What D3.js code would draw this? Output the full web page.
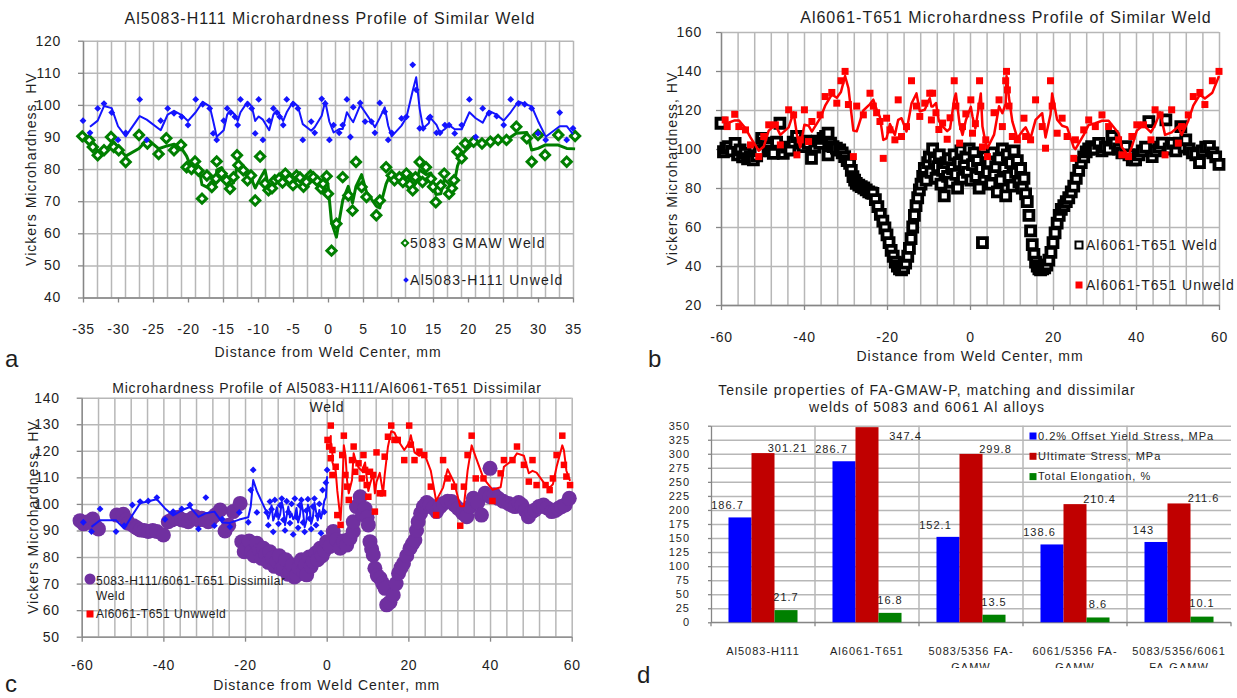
<!DOCTYPE html>
<html lang="en">
<head>
<meta charset="UTF-8">
<title>Microhardness and tensile properties of Al welds</title>
<script src="https://cdn.jsdelivr.net/npm/d3@7"></script>
<style>
  body { margin: 0; background: #fff; }
  svg { display: block; font-family: "Liberation Sans", Arial, Helvetica, sans-serif; }
  text { fill: #1e1e1e; }
</style>
</head>
<body>
<svg id="fig" width="1237" height="698"></svg>
<script>
// ---------------- data ----------------

// panel a : Al5083-H111 similar weld, [distance mm, HV]
const aXTicks = [-35, -30, -25, -20, -15, -10, -5, 0, 5, 10, 15, 20, 25, 30, 35];
const aYTicks = [40, 50, 60, 70, 80, 90, 100, 110, 120];
const aWeld = [[-35.1,90.2],[-34.1,89],[-33.6,86.9],[-32.9,84.3],[-32,85.9],[-31,90],[-30.6,86.9],[-29.9,85.9],
  [-28.9,82.2],[-27,90.6],[-25.8,88],[-24.2,84.7],[-23.1,89.6],[-22,85.9],[-21,87.5],[-20.2,80.6],[-19.5,80],
  [-19,82.4],[-18.5,79.5],[-18,70.8],[-17.3,78],[-16.6,74.4],[-16,77],[-15.9,82.4],[-15.2,78.6],[-14.5,76.5],
  [-14,73.9],[-13.5,77.5],[-13,84.3],[-12.8,81.2],[-12.1,79.6],[-11.5,76.5],[-11,78],[-10.4,70.2],[-9.7,83.9],
  [-9,75.5],[-8.5,73.4],[-8,74],[-7.6,76.5],[-7,77],[-6.5,75.8],[-6.1,78.6],[-5.5,76.8],[-5,75],[-4.5,78],
  [-4,77.4],[-3.5,74.5],[-3.1,76],[-2.5,78],[-2.1,77.5],[-1.5,76.2],[-1,74],[-0.7,75.4],[-0.2,77.8],[0,72.3],
  [0.5,54.6],[1.2,63],[2.1,77.5],[2.9,71.8],[3.5,67.1],[4,82.2],[4.8,74.4],[5.5,71.3],[6.9,65.6],[7.4,70.2],
  [8.3,80.6],[9.1,78],[9.5,76.5],[10.2,77.5],[10.7,76],[11.2,78.6],[11.7,75.2],[12.1,73.4],[12.5,77.5],[13.1,82.2],
  [13.5,76],[14,80.6],[14.7,77],[15,74.5],[15.4,69.7],[16.1,74.9],[16.6,78.6],[17.3,72.3],[17.7,74],[18,76.5],
  [18.5,85.4],[19.1,83.4],[19.6,88],[20.8,88.5],[22,88],[23.2,88.5],[24.3,89.1],[25.5,89.1],[26.9,93.2],
  [28.4,89.6],[29.1,82.3],[30,90.6],[31,84.4],[32.9,90.6],[34.1,82.3],[35.3,90.3]];
const aUnweld = [[-35,95.1],[-34,91.3],[-32.9,98.9],[-32,100.4],[-30.9,97.6],[-30,89.1],[-28.9,91.3],[-26.9,101.7],
  [-25.9,89.1],[-23.9,95.1],[-22.9,98.9],[-22,97.4],[-20.9,96.3],[-20,93.7],[-18.9,101.7],[-17.9,100.2],[-16.9,98.9],
  [-16.4,91.1],[-15.9,89.1],[-14.9,95.1],[-14.4,98.9],[-13.9,97.6],[-13.3,96.3],[-12.9,93.7],[-12.5,101.7],
  [-11.5,100.2],[-10.9,98.9],[-10.4,91.1],[-9.9,101.7],[-9.3,89.1],[-8.4,95.1],[-7.8,98.9],[-7.3,97.6],[-6.9,96.3],
  [-6.4,93.7],[-5.9,101.7],[-5,100.2],[-4.3,98.9],[-3.6,89.1],[-2.4,94.8],[-1.9,91.3],[-0.9,101.9],[-0.4,100.4],
  [0.2,89.1],[0.8,93.7],[1.6,91.3],[2.1,93.7],[2.7,101.7],[3.2,90],[3.6,99.3],[4.6,100.6],[5.3,94.8],[6.2,94.8],
  [6.7,91.3],[7.4,100.6],[8.1,97.9],[8.6,89.1],[9.1,91.3],[10.5,95.8],[11.2,96.3],[12.1,112.5],[12.6,104.7],
  [13.1,92.7],[13.6,92.7],[14.4,95.8],[14.6,96.3],[15.5,91.3],[16,91.3],[16.7,93.7],[17.3,93.7],[18.1,91.1],
  [19.1,93.7],[20.2,101.7],[21.1,90],[22.1,98.9],[23,97.4],[24.1,96.5],[25.1,93.7],[26.1,101.7],[27.2,100.4],
  [28.1,100.2],[29.1,98.9],[30,91.1],[31.1,89.1],[33.1,97.6],[34.1,89.1],[35,92.7]];

// panel b : Al6061-T651 similar weld
const bXTicks = [-60, -40, -20, 0, 20, 40, 60];
const bYTicks = [20, 40, 60, 80, 100, 120, 140, 160];
const bWeld = [[-60,113.2],[-59.4,98.6],[-58.8,100.5],[-58.2,101.2],[-57.4,99],[-56.6,102.9],[-56,97],[-55.4,99.5],
  [-54.8,96],[-54.2,97.8],[-53.6,95],[-53,96.1],[-52.2,94.4],[-51.4,96.5],[-50.8,99],[-50.2,105.5],[-49.4,103],
  [-48.6,101.2],[-48,99],[-47.4,97.8],[-46.6,103.5],[-45.8,113.2],[-45,97.8],[-44.2,101],[-43.4,99.5],[-42.6,103.5],
  [-41.8,106.4],[-41,103],[-40.2,101.2],[-39.6,104],[-39,102.9],[-38.2,95.2],[-37.4,101],[-36.8,104],[-36.2,102.9],
  [-35.4,105.5],[-34.8,106.5],[-34.2,108.1],[-34.2,97],[-33.6,103],[-33,101.2],[-32.2,100.5],[-31.4,99.5],[-30.8,98],
  [-30.2,96.1],[-29.6,94],[-29,92.6],[-28.6,89],[-28.2,85.8],[-27.8,84],[-27.4,82.4],[-26.8,81.5],[-26.2,80.7],
  [-25.6,80],[-25,79],[-24.4,78],[-23.8,77.5],[-23.4,77.2],[-22.8,74],[-22.2,70.5],[-21.6,66.5],[-21,63],
  [-20.5,59.5],[-20,56],[-19.5,52],[-19,48],[-18.5,45],[-18,42],[-17.5,40],[-17,38.5],[-16.5,38],[-16,39],
  [-15.5,41.5],[-15,45],[-14.6,49],[-14.2,54],[-13.8,60],[-13.4,66],[-13,71],[-12.6,75],[-12.2,79],[-11.8,82],
  [-11.4,86],[-11,90],[-10.6,84],[-10.2,93],[-9.8,96],[-9.4,88],[-9,100],[-8.6,94],[-8.2,85],[-7.8,91],[-7.4,97],
  [-7,82],[-6.6,89],[-6.2,76],[-5.8,93],[-5.4,86],[-5,95],[-4.6,83],[-4.2,90],[-3.8,97],[-3.4,87],[-3,80],
  [-2.6,93],[-2.2,99],[-1.8,85],[-1.4,91],[-1,96],[-0.6,88],[-0.2,100],[0.2,84],[0.6,92],[1,98],[1.4,86],
  [1.8,94],[2.2,80],[2.6,90],[3,52],[3.4,85],[3.8,96],[4.2,88],[4.6,93],[5,82],[5.4,98],[5.8,87],[6.2,91],
  [6.6,78],[7,95],[7.4,84],[7.8,100],[8.2,90],[8.6,76],[9,97],[9.4,86],[9.8,93],[10.2,81],[10.6,99],[11,88],
  [11.4,94],[11.8,83],[12.2,90],[12.6,80],[13,85],[13.4,77],[13.8,73],[14.2,66],[14.6,58],[15,51],[15.4,46],
  [15.8,42],[16.2,40],[16.6,38.5],[17,38],[17.5,38.5],[18,39],[18.5,40.5],[19,43],[19.5,47],[20,52],[20.5,57],
  [21,62],[21.5,66],[22,69],[22.6,71],[23.2,73],[23.8,75],[24.4,78],[25,81],[25.6,85],[26.2,89],[26.8,93],
  [27.4,96],[28,98.5],[28.6,100],[29.3,101.2],[30,100],[31,102.9],[31.8,99],[32.6,101],[33.4,100],[34.2,106.4],
  [35,103],[35.8,100],[36.6,98],[37.5,101.2],[38.3,97],[39.1,94.4],[39.9,94.4],[40.7,97],[41.5,99],[42.3,101],
  [43.1,114],[43.9,96.1],[44.7,99],[45.5,101],[46.3,103],[47.2,114.9],[48,100],[48.8,102.9],[49.6,99],[50.4,103],
  [50.8,111.5],[51.6,101],[52,104.7],[52.8,100],[53.6,98],[54.4,97],[55.3,93],[56,99],[56.8,101],[57.7,101.2],
  [58.5,98],[59.2,96],[60,92.1]];
const bUnweld = [[-59,114.9],[-58.5,111.5],[-56.7,117.8],[-55.7,111.5],[-54.1,109.8],[-52.9,102.1],[-50.9,96.1],
  [-49.7,106.4],[-48.5,112.4],[-46.9,112.4],[-45.7,102.1],[-43.7,120.1],[-42.5,117.5],[-41.7,97],[-40.9,104.7],
  [-39.9,120.1],[-38.9,103.8],[-38.1,114.1],[-36.1,117.5],[-34.9,126.9],[-33.3,129],[-32.1,123.5],[-31.1,135],
  [-30.1,139.8],[-29.3,122.8],[-28.1,96.1],[-27.3,122],[-25.7,117.5],[-24.1,128.6],[-23.3,122],[-22.5,118.6],
  [-21.7,114.1],[-20.9,95.2],[-20.1,115.8],[-19.3,109.8],[-18.1,104.7],[-17.3,125.2],[-16.5,106.4],[-15.3,111.5],
  [-14.1,135],[-12.9,122],[-12.1,116.7],[-10.9,123.5],[-9.7,128.6],[-9.3,114.9],[-9,128.6],[-8.2,118.6],[-7.5,110],
  [-6.6,113.3],[-5.5,105],[-4.8,116],[-3.8,135],[-3.4,122],[-2.5,103],[-1.8,111.5],[-1,118],[0.2,125.2],[0.6,108.1],
  [1.3,113],[2.3,135],[2.6,122],[3,101],[3.8,104.7],[4.2,96.1],[5.8,118.6],[7,125.2],[7.8,111.5],[8.6,135],
  [8.8,139.8],[9,130.3],[9.4,122],[10.2,106.4],[11.4,104.7],[13,115.8],[13.4,106.4],[14.6,104.7],[15.8,125.2],
  [17.4,111.5],[18.2,100.4],[19.4,135],[19.8,122],[21,108.1],[22.2,115.8],[23.4,106.4],[25,95.2],[25.4,104.7],
  [27.4,109.8],[28.6,114.9],[30.2,111.5],[31.8,117.5],[33.4,111.5],[35.8,104.7],[36.6,97],[38.2,96.1],[39,106.4],
  [40.2,112.4],[41.8,112.4],[43.6,104.7],[44.6,120.1],[45.8,117.5],[47,97],[48.6,120.1],[50.2,103],[51,111.5],
  [52.6,117.5],[53.8,126.9],[55.4,129],[56.6,122.8],[58.4,135],[60,139.8]];

// panel c : Al5083-H111 / Al6061-T651 dissimilar weld
const cXTicks = [-60, -40, -20, 0, 20, 40, 60];
const cYTicks = [50, 60, 70, 80, 90, 100, 110, 120, 130, 140];
const cDissimilar = [[-60.4,93.7],[-59.5,92.5],[-58.4,93.3],[-57.3,94.3],[-56.6,91.5],[-55.9,90.6],[-51.4,95.8],
  [-49.8,96.1],[-49,94],[-48.6,92.7],[-47.3,91.8],[-46.5,91],[-45.7,90.2],[-44.7,90],[-43.7,89.6],[-42.6,90],
  [-41.6,89.6],[-40,88.3],[-38.8,93.3],[-37.9,94],[-37.1,94.6],[-36.3,95],[-35.5,94],[-34.7,93.8],[-33.9,93.3],
  [-33,94.5],[-32.2,95.2],[-31.4,94],[-30.6,94.6],[-29.8,94],[-29,93.3],[-28.2,94.5],[-27.3,95.8],[-26.1,97.7],
  [-24.9,89.8],[-24,92],[-22.9,97.1],[-21.2,100.2],[-20.8,85.8],[-20.2,82],[-19.6,83.3],[-19,86],[-18.4,82],
  [-17.8,80.5],[-17.1,85.2],[-16.5,82.5],[-15.9,79.5],[-15.5,83.3],[-14.9,81],[-14.3,78],[-13.9,82],[-13.3,79.5],
  [-12.8,76.5],[-12.2,78.3],[-11.6,80.5],[-11.1,75.5],[-10.6,76.4],[-10,79],[-9.5,73.5],[-9,74.5],[-8.4,77],
  [-7.9,72.5],[-7.3,73.3],[-6.8,76],[-6.2,79],[-5.7,74.5],[-5.2,77],[-4.9,73.3],[-4.3,80],[-3.8,76.5],[-3.3,78.3],
  [-2.7,81.5],[-2.2,79],[-1.6,83.3],[-1.1,80.5],[-0.5,82.5],[0,85.8],[0.8,84],[1.6,89.6],[2.4,86.5],[3.3,83.3],
  [4.1,86],[4.9,84.5],[5.7,87],[6.5,89.6],[6.5,93.3],[7.3,99],[8.2,102.7],[8.8,96],[9.4,98.3],[9.9,95],[10.2,92.1],
  [10.6,85.8],[11,83],[11.4,80.8],[11.8,75.8],[12.4,73],[13.1,72],[13.7,70],[14.3,68.2],[14.7,62],[15.5,63],
  [16.3,65.7],[17,70],[17.6,73.9],[18.2,76],[18.8,77.6],[19.6,80.5],[20.4,83.3],[21,85],[21.6,86.4],[22,90],
  [22.4,93.3],[23,96.5],[23.7,99],[24.5,100.5],[25.3,99.6],[26.1,98.5],[26.9,97.1],[27.8,99],[28.6,100.2],
  [29.6,101],[30.6,100.9],[31.4,99.5],[32.2,98.3],[33.3,96.5],[34.3,95.2],[35.1,99],[35.9,102.1],[37,100.5],
  [37.9,95.8],[38.8,104],[40,113.4],[40,102.7],[41,103.5],[42,102.1],[43.2,101],[44.5,100.2],[45.3,99.5],[46.1,99],
  [47,100.5],[47.8,99.6],[48.6,97.5],[49.4,95.2],[50.2,97],[51,97.7],[52,99],[53.1,99.6],[54,98.5],[55.1,97.1],
  [56,97.5],[56.7,98.3],[57.5,99],[58.4,99.6],[59.4,102.1]];
const c5083Unweld = [[-59.6,93.1],[-57.6,89.6],[-55.5,98.1],[-51.6,89.6],[-49.6,91.8],[-47.6,99.6],[-45.7,100.9],
  [-43.7,101.1],[-41.6,102.4],[-39.6,94.2],[-37.6,97.1],[-35.5,98.1],[-33.5,99.6],[-31.4,90.6],[-29.6,102.4],
  [-27.5,91.8],[-25.6,94.3],[-23.7,91.4],[-21.4,96.8],[-19.2,93.1],[-18.6,105.2],[-18,112.8],[-17.1,96.8],
  [-14.7,96.8],[-14.3,92],[-13.9,100.9],[-13.5,98],[-13.1,89.5],[-12.7,101.5],[-12.2,96],[-11.8,92.5],[-11.4,99.5],
  [-11,102],[-10.6,94],[-10.2,90],[-9.8,101],[-9.4,97],[-9,92.8],[-8.6,100],[-8.2,88.5],[-7.8,102],[-7.4,95],
  [-7,91],[-6.6,99.5],[-6.2,101.5],[-5.8,93],[-5.4,89.5],[-5,97.5],[-4.6,101.8],[-4.2,94.5],[-3.8,90.5],[-3.4,99],
  [-3,102],[-2.6,92],[-2.2,95.5],[-1.8,100],[-1.4,89],[-1,105.2],[-0.6,97],[-0.2,108],[0.1,112.8]];
const c6061Unweld = [[0.2,124.1],[0.6,121.6],[1,129.5],[1,117.2],[1.4,120.3],[1.4,110.9],[2.2,114],[2.6,95.8],
  [3.4,92.1],[3.8,118.4],[4.2,125.7],[4.6,110.9],[5,106.5],[5.4,101.5],[6.2,116.5],[6.6,121.6],[7,112.1],
  [7.8,115.3],[8.6,109.6],[9,118.4],[9.4,112.8],[9.8,107.1],[10.2,102.7],[10.6,112.1],[11.4,110.9],[11.8,97.1],
  [12.2,119.4],[13,104],[13.8,104],[14.2,117.8],[15,125.3],[15.8,129.5],[16.6,124.1],[17.4,124.1],[19,116.5],
  [20.2,129.5],[20.6,122.3],[21.5,116.5],[22.7,119.7],[23.9,118.4],[25.5,106.5],[26.8,95.8],[28.5,116.5],
  [29.6,109.6],[31.2,106.5],[32.7,91.8],[33.6,106.5],[34.5,118.4],[35.5,125.7],[36.5,109.6],[38.4,109.6],
  [40.6,101.1],[42.6,111.5],[43.4,116.5],[45.5,116.5],[46.6,121.6],[48.3,114.7],[49.5,108.4],[50.4,116.5],
  [51.4,107.1],[53.6,107.1],[54.6,105.2],[55.4,109.6],[56.3,118.4],[57.7,125.7],[58.1,114.7],[58.7,110.3],
  [59.6,107.1]];

// panel d : tensile properties
const dCategories = ["Al5083-H111", "Al6061-T651", "5083/5356 FA-GAMW", "6061/5356 FA-GAMW", "5083/5356/6061 FA-GAMW"];
const dCategoryLines = [["Al5083-H111"], ["Al6061-T651"], ["5083/5356 FA-", "GAMW"], ["6061/5356 FA-", "GAMW"], ["5083/5356/6061", "FA-GAMW"]];
const dSeries = ["0.2% Offset Yield Stress, MPa", "Ultimate Stress, MPa", "Total Elongation, %"];
const dYield = [186.7, 286.7, 152.1, 138.6, 143];
const dUltimate = [301.21, 347.4, 299.8, 210.4, 211.6];
const dElongation = [21.7, 16.8, 13.5, 8.6, 10.1];
const dYTicks = d3.range(0, 351, 25);

// ---------------- drawing ----------------
const svg = d3.select("#fig");
const GRID = "#b7b7b7", AXIS = "#868686";

// Excel style 2-period moving-average trendline drawn through a scatter series
function movingAverage(pts) {
  const s = pts.slice().sort((a, b) => a[0] - b[0]);
  return s.slice(1).map((p, i) => [p[0], (s[i][1] + p[1]) / 2]);
}

function label(parent, x, y, str, size, spacing, anchor) {
  return parent.append("text")
    .attr("x", x).attr("y", y).attr("dy", "0.35em")
    .attr("font-size", size).attr("letter-spacing", spacing)
    .attr("text-anchor", anchor || "middle")
    .text(str);
}

function styleAxis(sel, size, spacing) {
  sel.attr("font-family", null).attr("font-size", size);
  sel.selectAll("text").attr("letter-spacing", spacing).attr("fill", "#1e1e1e");
  sel.selectAll("line").attr("stroke", AXIS).attr("stroke-width", 1.3);
  sel.select(".domain").attr("stroke", AXIS).attr("stroke-width", 1.3);
}

// plain hyphen minus like the original, not d3's typographic minus
const plain = d => String(d);

// grid, axes and titles of one of the microhardness panels
function scatterPanel(o) {
  const x = d3.scaleLinear().domain(o.xDomain).range(o.xRange);
  const y = d3.scaleLinear().domain(o.yDomain).range(o.yRange);
  const w = o.xRange[1] - o.xRange[0], h = o.yRange[0] - o.yRange[1];
  const g = svg.append("g");

  g.append("g")
    .attr("transform", `translate(0,${o.yRange[0]})`)
    .call(d3.axisBottom(x).tickValues(o.xGrid).tickSize(-h).tickFormat(""))
    .call(s => s.select(".domain").remove())
    .selectAll("line").attr("stroke", GRID).attr("stroke-width", 1.5);
  g.append("g")
    .attr("transform", `translate(${o.xRange[0]},0)`)
    .call(d3.axisLeft(y).tickValues(o.yTicks).tickSize(-w).tickFormat(""))
    .call(s => s.select(".domain").remove())
    .selectAll("line").attr("stroke", GRID).attr("stroke-width", 1.5);

  g.append("g")
    .attr("transform", `translate(${o.xRange[0]},0)`)
    .call(d3.axisLeft(y).tickValues(o.yTicks).tickFormat(plain).tickSize(5).tickSizeOuter(0).tickPadding(o.yPad))
    .call(s => styleAxis(s, 14, 0.7));
  g.append("g")
    .attr("transform", `translate(0,${o.yRange[0]})`)
    .call(d3.axisBottom(x).tickValues(o.xTicks).tickFormat(plain).tickSize(5).tickSizeOuter(0).tickPadding(o.xPad))
    .call(s => styleAxis(s, 14, 0.7));

  o.title.forEach((t, i) => label(svg, o.titleX, o.titleY + i * 19, t, o.titleSize, o.titleSpacing));
  label(svg, 0, 0, "Vickers Microhardness, HV", 14, 1)
    .attr("transform", `translate(${o.yTitleX},${(o.yRange[0] + o.yRange[1]) / 2}) rotate(-90)`);
  label(svg, (o.xRange[0] + o.xRange[1]) / 2, o.xTitleY, "Distance from Weld Center, mm", 14, 1);
  svg.append("text").attr("x", o.letter[0]).attr("y", o.letter[1])
    .attr("font-size", 24).text(o.letter[2]);
  return { g, x, y };
}

const diamond = s => d3.symbol(d3.symbolSquare, s * s)();
const square = s => d3.symbol(d3.symbolSquare, s * s)();

function drawMarkers(p, pts, path, fill, stroke, sw, rotate) {
  p.g.append("g").selectAll("path").data(pts).join("path")
    .attr("d", path)
    .attr("transform", d => `translate(${p.x(d[0])},${p.y(d[1])})${rotate ? " rotate(45)" : ""}`)
    .attr("fill", fill).attr("stroke", stroke).attr("stroke-width", sw);
}
function drawTrend(p, pts, color, width) {
  const line = d3.line().x(d => p.x(d[0])).y(d => p.y(d[1]));
  p.g.append("path").datum(movingAverage(pts))
    .attr("d", line).attr("fill", "none").attr("stroke", color)
    .attr("stroke-width", width).attr("stroke-linejoin", "round");
}

// ----- panel a -----
const A = scatterPanel({
  xDomain: [-35, 35], xRange: [83, 573], yDomain: [40, 120], yRange: [297.5, 40.7],
  xTicks: aXTicks, xGrid: d3.range(-35, 36, 2), yTicks: aYTicks, yPad: 17, xPad: 22,
  title: ["Al5083-H111 Microhardness Profile of Similar Weld"], titleX: 330, titleY: 18, titleSize: 16, titleSpacing: 1,
  yTitleX: 31, xTitleY: 352, letter: [5, 367, "a"]
});
drawTrend(A, aWeld, "#007f00", 3);
drawMarkers(A, aWeld, diamond(6.5), "#fff", "#007f00", 3, true);
drawTrend(A, aUnweld, "#1414ff", 2);
drawMarkers(A, aUnweld, diamond(4.8), "#1414ff", "none", 0, true);
A.g.append("path").attr("d", diamond(4.5)).attr("transform", "translate(405,243) rotate(45)")
  .attr("fill", "#fff").attr("stroke", "#007f00").attr("stroke-width", 2);
label(A.g, 410, 243, "5083 GMAW Weld", 14, 1.5, "start");
A.g.append("path").attr("d", diamond(4)).attr("transform", "translate(406,280) rotate(45)").attr("fill", "#1414ff");
label(A.g, 410, 280, "Al5083-H111 Unweld", 14, 1.3, "start");

// ----- panel b -----
const B = scatterPanel({
  xDomain: [-60, 60], xRange: [721, 1219], yDomain: [20, 160], yRange: [305, 32],
  xTicks: bXTicks, xGrid: d3.range(-60, 61, 4), yTicks: bYTicks, yPad: 14, xPad: 22,
  title: ["Al6061-T651 Microhardness Profile of Similar Weld"], titleX: 1006, titleY: 17, titleSize: 16, titleSpacing: 1,
  yTitleX: 672, xTitleY: 356, letter: [648, 367, "b"]
});
drawMarkers(B, bWeld, square(9), "#fff", "#000", 3.8, false);
drawTrend(B, bUnweld, "#ff0000", 2.5);
drawMarkers(B, bUnweld, square(7), "#ff0000", "none", 0, false);
B.g.append("path").attr("d", square(7)).attr("transform", "translate(1079,245)")
  .attr("fill", "#fff").attr("stroke", "#000").attr("stroke-width", 2);
label(B.g, 1086, 245, "Al6061-T651 Weld", 14, 1, "start");
B.g.append("path").attr("d", square(7)).attr("transform", "translate(1079,285)").attr("fill", "#ff0000");
label(B.g, 1086, 285, "Al6061-T651 Unweld", 14, 1, "start");

// ----- panel c -----
const C = scatterPanel({
  xDomain: [-60, 60], xRange: [81.7, 571.7], yDomain: [50, 140], yRange: [636.7, 397.7],
  xTicks: cXTicks, xGrid: d3.range(-60, 61, 4), yTicks: cYTicks, yPad: 17, xPad: 18,
  title: ["Microhardness Profile of Al5083-H111/Al6061-T651 Dissimilar", "Weld"], titleX: 327, titleY: 388,
  titleSize: 14, titleSpacing: 0.8,
  yTitleX: 33, xTitleY: 685, letter: [5, 692, "c"]
});
C.g.append("g").selectAll("circle").data(cDissimilar).join("circle")
  .attr("cx", d => C.x(d[0])).attr("cy", d => C.y(d[1])).attr("r", 7.5).attr("fill", "#7030a0");
drawTrend(C, c5083Unweld, "#1414ff", 2);
drawMarkers(C, c5083Unweld, diamond(4.8), "#1414ff", "none", 0, true);
drawTrend(C, c6061Unweld, "#ff0000", 2);
drawMarkers(C, c6061Unweld, square(6.5), "#ff0000", "none", 0, false);
C.g.append("circle").attr("cx", 90).attr("cy", 579).attr("r", 5.5).attr("fill", "#7030a0");
label(C.g, 96, 581, "5083-H111/6061-T651 Dissimilar", 12, 0.5, "start");
label(C.g, 96, 596, "Weld", 12, 0.5, "start");
C.g.append("path").attr("d", square(7)).attr("transform", "translate(90,614)").attr("fill", "#ff0000");
label(C.g, 96, 614, "Al6061-T651 Unwweld", 12, 0.5, "start");

// ----- panel d -----
const dColors = ["#0000ff", "#c00000", "#008000"];
const dRows = dCategories.map((c, i) => ({ cat: c, lines: dCategoryLines[i], vals: [dYield[i], dUltimate[i], dElongation[i]] }));
const dX = d3.scaleBand().domain(dCategories).range([711, 1231]);
const dSub = d3.scaleBand().domain(dSeries).range([0, dX.bandwidth()]).paddingOuter(0.76);
const dY = d3.scaleLinear().domain([0, 350]).range([622.3, 425.7]);
const D = svg.append("g");

D.append("g").attr("transform", "translate(711,0)")
  .call(d3.axisLeft(dY).tickValues(dYTicks).tickSize(-520).tickFormat(""))
  .call(s => s.select(".domain").remove())
  .selectAll("line").attr("stroke", GRID).attr("stroke-width", 1.5);
D.append("g").selectAll("line").data(dCategories.slice(1)).join("line")
  .attr("x1", d => dX(d)).attr("x2", d => dX(d)).attr("y1", dY(0)).attr("y2", dY(350))
  .attr("stroke", GRID).attr("stroke-width", 1.5);
D.append("g").attr("transform", "translate(711,0)")
  .call(d3.axisLeft(dY).tickValues(dYTicks).tickSize(3).tickSizeOuter(0).tickPadding(18))
  .call(s => styleAxis(s, 11, 1));
D.append("line").attr("x1", 711).attr("x2", 1231).attr("y1", dY(0)).attr("y2", dY(0))
  .attr("stroke", AXIS).attr("stroke-width", 1.3);
D.append("g").selectAll("line").data(dCategories.map(c => dX(c)).concat(dX.range()[1])).join("line")
  .attr("x1", d => d).attr("x2", d => d).attr("y1", dY(0)).attr("y2", dY(0) + 4)
  .attr("stroke", AXIS).attr("stroke-width", 1.3);

const groups = D.append("g").selectAll("g").data(dRows).join("g")
  .attr("transform", d => `translate(${dX(d.cat)},0)`);
groups.selectAll("rect").data(d => d.vals.map((v, k) => ({ v, s: dSeries[k], k }))).join("rect")
  .attr("x", d => dSub(d.s)).attr("width", dSub.bandwidth())
  .attr("y", d => dY(d.v)).attr("height", d => dY(0) - dY(d.v))
  .attr("fill", d => dColors[d.k]);
// value labels: yield to the upper left, ultimate to the upper right (beside the bar
// when it reaches the top of the plot), elongation centred above
const topLimit = dY(350) + 10;
groups.selectAll("text.val").data(d => d.vals.map((v, k) => ({ v, s: dSeries[k], k }))).join("text")
  .attr("class", "val")
  .attr("x", d => {
    if (d.k === 0) return dSub(d.s) - 1;
    if (d.k === 1) return dSub(d.s) + dSub.bandwidth() + (dY(d.v) - 5 < topLimit ? 27 : 13);
    return dSub(d.s) + dSub.bandwidth() / 2;
  })
  .attr("y", d => d.k === 1 ? Math.max(dY(d.v) - 5, topLimit) : dY(d.v) - (d.k === 0 ? 12 : 13))
  .attr("dy", "0.35em").attr("text-anchor", "middle")
  .attr("font-size", 11).attr("letter-spacing", 1)
  .text(d => d.v);

D.append("clipPath").attr("id", "catclip").append("rect")
  .attr("x", 700).attr("y", 630).attr("width", 537).attr("height", 38);
D.append("g").attr("clip-path", "url(#catclip)")
  .selectAll("text").data(dRows).join("text")
  .attr("x", d => dX(d.cat) + dX.bandwidth() / 2).attr("y", 651).attr("dy", "0.35em")
  .attr("text-anchor", "middle").attr("font-size", 11).attr("letter-spacing", 1)
  .selectAll("tspan").data(d => d.lines).join("tspan")
  .attr("x", function () { return this.parentNode.getAttribute("x"); })
  .attr("dy", (d, i) => i === 0 ? "0.35em" : 16)
  .text(d => d);

const leg = D.append("g").selectAll("g").data(dSeries).join("g")
  .attr("transform", (d, i) => `translate(1033,${436 + i * 20.3})`);
leg.append("rect").attr("x", -3.5).attr("y", -3.5).attr("width", 7).attr("height", 7)
  .attr("fill", (d, i) => dColors[i]);
leg.append("text").attr("x", 5).attr("dy", "0.35em").attr("font-size", 11).attr("letter-spacing", 1).text(d => d);

label(D, 927, 390, "Tensile properties of FA-GMAW-P, matching and dissimilar", 14, 1);
label(D, 927, 407, "welds of 5083 and 6061 Al alloys", 14, 1);
D.append("text").attr("x", 637).attr("y", 683).attr("font-size", 24).text("d");
</script>
</body>
</html>
